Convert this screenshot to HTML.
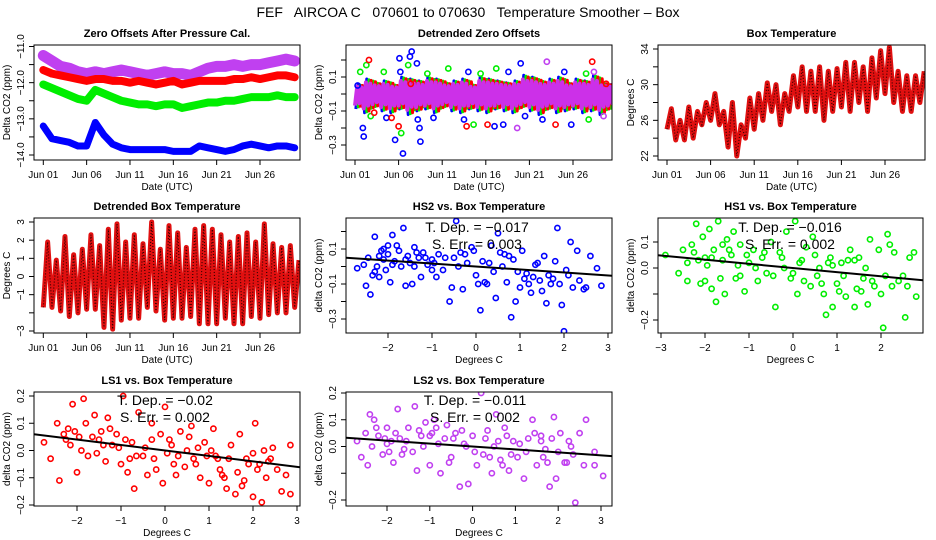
<!DOCTYPE html>
<html><head><meta charset="utf-8"><style>
html,body{margin:0;padding:0;background:#fff}
svg{display:block;font-family:"Liberation Sans",Arial,sans-serif}
</style></head><body>
<svg id="fig" width="936" height="540" viewBox="0 0 936 540" xmlns="http://www.w3.org/2000/svg">
<rect x="0" y="0" width="936" height="540" fill="#fff"/>
<text x="468" y="17" text-anchor="middle" font-size="14" style="white-space:pre" xml:space="preserve">FEF   AIRCOA C   070601 to 070630   Temperature Smoother – Box</text>
</svg>
<script>
// ---- Panel 1: zero offsets (daily values) ----
const zoMagenta=[-11.25,-11.4,-11.55,-11.6,-11.7,-11.75,-11.7,-11.75,-11.7,-11.65,-11.7,-11.75,-11.8,-11.75,-11.7,-11.75,-11.75,-11.8,-11.7,-11.6,-11.55,-11.55,-11.5,-11.55,-11.5,-11.5,-11.45,-11.4,-11.35,-11.4];
const zoRed=[-11.65,-11.75,-11.8,-11.85,-11.9,-11.95,-11.9,-11.9,-11.95,-11.95,-12.0,-11.95,-12.0,-12.05,-12.0,-11.95,-12.05,-12.0,-11.95,-11.95,-11.95,-11.95,-11.9,-11.9,-11.85,-11.9,-11.85,-11.8,-11.8,-11.85];
const zoGreen=[-12.05,-12.15,-12.25,-12.35,-12.45,-12.5,-12.2,-12.3,-12.4,-12.5,-12.55,-12.6,-12.6,-12.65,-12.6,-12.6,-12.7,-12.65,-12.6,-12.55,-12.55,-12.5,-12.5,-12.45,-12.4,-12.4,-12.4,-12.35,-12.4,-12.4];
const zoBlue=[-13.2,-13.55,-13.6,-13.65,-13.75,-13.75,-13.1,-13.45,-13.7,-13.8,-13.85,-13.85,-13.85,-13.85,-13.85,-13.9,-13.9,-13.9,-13.75,-13.8,-13.85,-13.9,-13.85,-13.75,-13.7,-13.75,-13.8,-13.75,-13.75,-13.8];
// ---- Panel 2: detrended zero offsets ----
const dzHi=[0.05,0.08,0.06,0.07,0.05,0.09,0.08,0.07,0.09,0.08,0.06,0.07,0.08,0.05,0.09,0.08,0.07,0.06,0.07,0.1,0.09,0.07,0.08,0.09,0.06,0.08,0.07,0.1,0.06,0.05];
const dzLo=[-0.08,-0.1,-0.07,-0.09,-0.1,-0.08,-0.11,-0.09,-0.08,-0.1,-0.07,-0.09,-0.1,-0.08,-0.09,-0.1,-0.08,-0.09,-0.1,-0.07,-0.09,-0.11,-0.08,-0.1,-0.09,-0.08,-0.1,-0.09,-0.11,-0.08];
const dzOutliers=[[0.3,0.05,'b'],[0.6,0.13,'g'],[0.9,-0.2,'b'],[1.0,-0.25,'b'],[1.3,0.17,'g'],[1.6,0.2,'r'],[1.8,-0.13,'g'],[2.2,-0.11,'r'],[3.3,0.13,'g'],[3.6,-0.14,'b'],[4.2,-0.14,'r'],[4.6,-0.27,'b'],[5.0,-0.19,'r'],[5.1,0.21,'b'],[5.2,0.13,'b'],[5.3,-0.23,'g'],[5.5,-0.35,'b'],[6.1,0.17,'g'],[6.3,0.22,'b'],[6.5,0.25,'b'],[6.4,0.06,'r'],[7.1,0.18,'b'],[7.2,-0.15,'b'],[7.4,-0.2,'b'],[7.5,-0.28,'b'],[8.3,0.12,'g'],[9.0,-0.14,'b'],[10.7,0.15,'g'],[12.5,-0.15,'b'],[12.8,-0.19,'r'],[13.0,0.13,'b'],[13.6,-0.18,'g'],[14.4,0.12,'g'],[15.2,-0.18,'r'],[16.0,-0.19,'b'],[16.2,0.15,'g'],[17.0,-0.18,'b'],[17.6,0.13,'b'],[18.6,-0.2,'m'],[19.0,0.18,'b'],[19.5,-0.13,'b'],[21.5,-0.15,'b'],[22.0,0.19,'m'],[23.0,-0.18,'r'],[24.0,0.13,'b'],[24.8,-0.18,'b'],[26.5,0.12,'g'],[26.8,-0.15,'g'],[27.2,0.19,'r'],[27.4,0.13,'m'],[28.5,-0.13,'m'],[28.8,0.06,'r']];
// ---- Panel 3: box temperature daily min/max ----
const btMin=[25,23.8,23.8,24,25.5,26,25.5,23,22,24,25,26,27,25.5,27,27.5,27,27,26,27,27.5,27,28,27,28.5,29,28,27,27,28];
const btMax=[27.3,26,27.5,27,28,29,27,28,25.5,28.5,29,30.2,30,29,31,32,31.5,32,31.5,31.8,32.5,32.5,32,33,33.8,34.2,31.5,31,31,31.5];
// ---- Panel 4: detrended box temperature daily min/max ----
const dbMin=[-1.7,-1.7,-1.9,-2.2,-2,-1.8,-1.8,-2.8,-2.9,-2.4,-2.3,-2.3,-1.7,-1.9,-2.4,-2.3,-2.3,-2.2,-2.6,-2.6,-2.6,-2.3,-2.6,-2.6,-2.2,-2.3,-2.1,-2,-2,-1.7];
const dbMax=[1.9,0.9,2.2,1.2,1.5,2.3,1.7,2.6,2.9,1.9,2.3,1.8,3.0,1.5,2.8,2.4,1.6,2.6,2.8,2.6,2.3,1.9,2.2,2.4,1.9,2.9,1.8,1.6,1.7,0.9];
// ---- Scatter panels ----
const hs2Pts=[[-2.7,-0.01],[-2.55,0.01],[-2.5,-0.11],[-2.45,0.05],[-2.4,-0.16],[-2.35,-0.05],[-2.3,0.17],[-2.25,0.0],[-2.2,-0.06],[-2.15,0.09],[-2.1,0.04],[-2.05,-0.02],[-2.0,0.07],[-1.95,-0.09],[-1.9,0.18],[-1.85,0.03],[-1.8,0.12],[-1.7,0.0],[-1.65,0.22],[-1.6,-0.11],[-1.55,0.06],[-1.5,0.02],[-1.45,-0.1],[-1.4,0.11],[-1.3,0.05],[-1.25,-0.06],[-1.2,0.08],[-1.1,0.01],[-1.0,0.04],[-0.9,-0.06],[-0.85,0.07],[-0.75,-0.02],[-0.6,-0.2],[-0.55,-0.12],[-0.5,0.05],[-0.45,0.26],[-0.35,0.08],[-0.3,-0.13],[-0.2,0.02],[-0.1,0.11],[0.0,-0.05],[0.1,-0.25],[0.15,0.03],[0.25,-0.1],[0.35,0.12],[0.45,-0.18],[0.5,0.19],[0.6,0.0],[0.7,-0.09],[0.8,-0.29],[0.85,0.04],[0.9,-0.2],[1.0,-0.12],[1.05,0.09],[1.15,-0.04],[1.25,-0.15],[1.35,0.01],[1.45,-0.08],[1.6,-0.21],[1.7,-0.1],[1.8,0.03],[1.85,0.22],[1.95,-0.22],[2.0,-0.37],[2.05,-0.02],[2.15,0.14],[2.2,-0.12],[2.3,0.09],[2.45,-0.13],[2.6,0.06],[2.75,-0.01],[2.85,-0.11],[-2.0,0.12],[-1.75,0.09],[0.3,0.02],[0.65,0.07],[1.3,-0.06],[1.55,0.06],[-2.2,0.06],[-2.1,0.1],[-1.9,0.01],[-1.6,0.04],[-1.4,0.0],[-1.35,0.08],[-1.15,0.05],[-0.95,0.02],[-0.7,0.05],[-0.4,0.0],[-0.25,0.07],[-0.05,0.09],[0.2,-0.09],[0.4,-0.03],[0.55,0.08],[0.75,0.06],[0.95,-0.03],[1.1,-0.07],[1.4,0.02],[1.65,-0.05],[1.75,-0.07],[1.9,-0.1],[2.1,-0.05],[2.35,-0.08],[2.5,-0.12],[-2.3,-0.03],[-1.0,-0.02],[0.05,-0.1],[1.2,-0.1],[1.5,-0.14]];
const hs1Pts=[[-2.9,0.05],[-2.6,-0.02],[-2.5,0.07],[-2.4,-0.05],[-2.3,0.09],[-2.2,0.17],[-2.15,0.03],[-2.1,-0.06],[-2.05,0.12],[-1.95,0.01],[-1.9,0.15],[-1.85,-0.08],[-1.8,0.07],[-1.75,-0.13],[-1.7,0.18],[-1.6,0.03],[-1.55,-0.1],[-1.5,0.11],[-1.4,0.05],[-1.35,0.14],[-1.3,-0.04],[-1.2,0.09],[-1.1,-0.09],[-1.0,0.02],[-0.9,0.07],[-0.8,-0.05],[-0.7,0.04],[-0.6,-0.02],[-0.5,0.1],[-0.4,-0.15],[-0.3,0.06],[-0.2,0.0],[-0.15,0.14],[-0.05,-0.04],[0.05,0.18],[0.1,-0.1],[0.2,0.03],[0.3,0.08],[0.4,-0.07],[0.45,0.12],[0.55,-0.03],[0.6,0.0],[0.7,-0.1],[0.75,-0.18],[0.85,0.04],[0.9,-0.15],[1.0,-0.06],[1.1,0.02],[1.2,-0.11],[1.3,0.07],[1.4,-0.15],[1.5,0.04],[1.6,-0.04],[1.7,-0.14],[1.75,0.11],[1.85,-0.07],[1.95,0.07],[2.0,-0.1],[2.05,-0.23],[2.15,0.13],[2.2,0.09],[2.3,0.06],[2.4,-0.05],[2.5,-0.03],[2.55,-0.19],[2.6,-0.07],[2.65,0.04],[2.75,0.06],[2.8,-0.11],[-2.0,0.04],[-1.6,0.09],[0.9,0.01],[1.4,0.03],[-2.25,0.06],[-2.0,-0.05],[-1.85,0.04],[-1.65,-0.04],[-1.45,0.07],[-1.25,0.01],[-1.05,0.05],[-0.85,0.0],[-0.65,0.06],[-0.45,-0.03],[-0.25,0.04],[0.0,-0.02],[0.25,-0.05],[0.5,0.05],[0.65,-0.06],[0.8,0.02],[1.05,-0.09],[1.25,0.03],[1.45,-0.08],[1.65,0.0],[1.8,-0.05],[2.1,-0.03],[2.25,-0.07],[-2.4,0.02],[-1.2,-0.03],[0.15,0.02],[1.15,-0.03],[1.55,-0.09]];
const ls1Pts=[[-2.75,0.03],[-2.6,-0.03],[-2.45,0.1],[-2.4,-0.11],[-2.3,0.06],[-2.2,0.08],[-2.15,0.02],[-2.1,0.17],[-2.0,-0.08],[-1.95,0.05],[-1.85,0.19],[-1.8,0.1],[-1.75,-0.02],[-1.6,0.13],[-1.5,0.04],[-1.45,0.07],[-1.35,-0.04],[-1.3,0.12],[-1.2,0.02],[-1.1,0.06],[-1.0,-0.05],[-0.95,0.2],[-0.85,-0.08],[-0.75,0.03],[-0.7,-0.14],[-0.6,0.14],[-0.5,-0.02],[-0.4,-0.09],[-0.3,0.04],[-0.2,-0.07],[-0.1,0.06],[-0.05,-0.12],[0.0,0.16],[0.05,-0.01],[0.15,0.02],[0.25,-0.09],[0.35,0.07],[0.45,-0.06],[0.55,0.05],[0.65,-0.03],[0.75,0.01],[0.8,-0.1],[0.9,0.03],[1.0,-0.12],[1.1,0.08],[1.2,-0.03],[1.3,-0.09],[1.4,-0.14],[1.5,0.02],[1.6,-0.16],[1.7,0.06],[1.8,-0.11],[1.9,-0.05],[2.0,-0.17],[2.05,0.1],[2.1,-0.07],[2.2,-0.19],[2.25,0.0],[2.35,-0.04],[2.45,0.01],[2.55,-0.07],[2.65,-0.15],[2.75,-0.09],[2.85,-0.16],[2.85,0.02],[-1.4,0.02],[-0.3,0.1],[0.6,0.09],[1.15,-0.02],[1.75,-0.13],[-2.25,0.04],[-2.05,0.07],[-1.9,0.0],[-1.65,0.05],[-1.55,-0.01],[-1.25,0.08],[-1.05,0.01],[-0.9,0.04],[-0.65,-0.02],[-0.45,0.01],[-0.25,-0.03],[0.1,0.04],[0.3,-0.02],[0.5,0.0],[0.7,-0.05],[0.95,-0.02],[1.05,0.0],[1.25,-0.07],[1.45,-0.03],[1.65,-0.08],[1.85,-0.03],[2.0,-0.01],[2.15,-0.05],[2.3,-0.1],[2.4,-0.03],[-0.8,-0.03],[0.2,-0.05],[1.35,-0.1]];
const ls2Pts=[[-2.7,0.02],[-2.6,-0.04],[-2.5,0.05],[-2.45,-0.07],[-2.4,0.12],[-2.35,0.0],[-2.3,0.1],[-2.2,0.04],[-2.1,-0.03],[-2.0,0.07],[-1.9,0.02],[-1.85,-0.06],[-1.75,0.14],[-1.7,0.03],[-1.6,-0.01],[-1.5,0.07],[-1.4,-0.02],[-1.35,0.15],[-1.3,-0.09],[-1.2,0.04],[-1.1,0.09],[-1.0,-0.07],[-0.9,0.1],[-0.8,0.01],[-0.75,-0.1],[-0.6,0.08],[-0.5,-0.04],[-0.45,0.03],[-0.3,-0.15],[-0.25,0.06],[-0.15,0.0],[-0.1,-0.14],[0.0,0.04],[0.1,-0.07],[0.2,0.2],[0.25,-0.03],[0.35,0.06],[0.45,-0.1],[0.55,0.12],[0.65,-0.05],[0.75,0.07],[0.85,-0.09],[0.95,0.02],[1.05,-0.04],[1.2,-0.12],[1.3,0.03],[1.4,0.1],[1.5,-0.07],[1.6,0.04],[1.7,-0.01],[1.8,-0.15],[1.9,0.11],[1.95,-0.12],[2.05,0.05],[2.15,-0.06],[2.25,0.02],[2.35,-0.03],[2.4,-0.21],[2.5,0.05],[2.6,-0.07],[2.65,0.1],[2.85,-0.02],[2.85,-0.07],[3.05,-0.11],[-2.0,0.01],[-1.0,0.04],[0.5,0.0],[1.6,0.02],[-2.25,0.07],[-2.05,0.03],[-1.95,-0.02],[-1.8,0.05],[-1.55,0.02],[-1.25,0.06],[-1.15,0.0],[-0.95,0.05],[-0.85,0.07],[-0.65,0.03],[-0.4,0.05],[-0.2,0.01],[0.05,-0.02],[0.3,0.03],[0.4,-0.04],[0.6,0.02],[0.8,0.04],[0.9,-0.03],[1.1,0.01],[1.25,-0.02],[1.45,0.05],[1.65,-0.04],[1.85,0.03],[2.0,-0.02],[2.2,-0.06],[2.3,0.0],[-1.65,-0.03],[-0.55,-0.06],[0.7,-0.07],[1.75,-0.06]];
const slopes=[-0.017,-0.016,-0.02,-0.011];
const tdepLabels=["-0.017","-0.016","-0.02","-0.011"];
const serrLabels=["0.003","0.002","0.002","0.002"];
const dateTicks=["Jun 01","Jun 06","Jun 11","Jun 16","Jun 21","Jun 26"];

const NS="http://www.w3.org/2000/svg";
const svg=document.getElementById('fig');
const COL={b:'#0000ff',g:'#00ee00',r:'#ff0000',m:'#c040f0'};
function el(tag,attrs,parent){const e=document.createElementNS(NS,tag);for(const k in attrs)e.setAttribute(k,attrs[k]);(parent||svg).appendChild(e);return e;}
function lin(v1,p1,v2,p2){const k=(p2-p1)/(v2-v1);return v=>p1+(v-v1)*k;}

function panel(cfg){
  const g=el('g',{});
  
  
  const b=cfg.box;
  const cp='clip-'+cfg.name;
  const cl=el('clipPath',{id:cp},g);el('rect',{x:b[0],y:b[2],width:b[1]-b[0],height:b[3]-b[2]},cl);
  const plot=el('g',{'clip-path':'url(#'+cp+')'},g);
  
  
  cfg.draw(plot,cfg.xs,cfg.ys);
  const frame=el('rect',{x:b[0],y:b[2],width:b[1]-b[0],height:b[3]-b[2],fill:'none',stroke:'#000','stroke-width':1},g);
  
  
  const t=el('text',{x:(b[0]+b[1])/2,y:b[2]-8,'text-anchor':'middle','font-size':11,'font-weight':'bold'},g);
  t.textContent=cfg.title;
  
  
  const xa=el('g',{},g);
  
  
  cfg.xticks.forEach((v,i)=>{const x=cfg.xs(v);
    el('line',{x1:x,x2:x,y1:b[3],y2:b[3]+5,stroke:'#000'},xa);
    const tl=el('text',{x:x,y:b[3]+18,'text-anchor':'middle','font-size':10},xa);
    tl.textContent=cfg.xlabels[i];
    
    });
  const xt=el('text',{x:(b[0]+b[1])/2,y:b[3]+30,'text-anchor':'middle','font-size':10},g);
  xt.textContent=cfg.xtitle;
  
  
  const ya=el('g',{},g);
  
  
  cfg.yticks.forEach(v=>{const y=cfg.ys(v);
    el('line',{x1:b[0]-5,x2:b[0],y1:y,y2:y,stroke:'#000'},ya);});
  cfg.ylabels.forEach(v=>{const y=cfg.ys(v);const lx=b[0]-10;
    const tl=el('text',{x:lx,y:y,'text-anchor':'middle','font-size':10,transform:`rotate(-90 ${lx} ${y})`},ya);
    tl.textContent=cfg.yfmt(v).replace('-','\u2212');
    
    });
  const yx=b[0]-24,yy=(b[2]+b[3])/2;
  const yt=el('text',{x:yx,y:yy,'text-anchor':'middle','font-size':10,transform:`rotate(-90 ${yx} ${yy})`},g);
  yt.textContent=cfg.ytitle;
  
  
  return g;
}
function band(p,arr,xs,ys,color,w,name){
  const pl=el('polyline',{points:arr.map((v,i)=>xs(i)+','+ys(v)).join(' '),fill:'none',stroke:color,'stroke-width':w,'stroke-linejoin':'round','stroke-linecap':'round'},p);
  
  
}
function zig(p,lo,hi,xs,ys,color,w,name){
  const pts=[];lo.forEach((v,i)=>{pts.push(xs(i)+','+ys(v));pts.push(xs(i+0.5)+','+ys(hi[i]));});
  const pl=el('polyline',{points:pts.join(' '),fill:'none',stroke:color,'stroke-width':w,'stroke-linejoin':'round'},p);
  
  
  const tx=el('polyline',{points:pts.join(' '),fill:'none',stroke:'#300','stroke-width':1.2,'stroke-dasharray':'1 2'},p);
  
  
}
function pt(p,x,y,color,name){
  const c=el('circle',{cx:x,cy:y,r:2.6,fill:'none',stroke:color,'stroke-width':1.6},p);
  
  
}
const dayTicks=[0,5,10,15,20,25];
const f1=v=>v.toFixed(1), f0=v=>String(v);
const range=(a,b,s)=>{const r=[];for(let v=a;v<=b+1e-9;v+=s)r.push(+v.toFixed(3));return r;};

panel({name:'zero-offsets-panel',title:'Zero Offsets After Pressure Cal.',box:[34,300,45,160],
  xs:lin(0,43.3,25,260),ys:lin(-11,46.5,-14,155),xticks:dayTicks,xlabels:dateTicks,xtitle:'Date (UTC)',
  yticks:range(-14,-11,0.5),ylabels:[-11,-12,-13,-14],yfmt:f1,ytitle:'Delta CO2 (ppm)',
  draw:(p,xs,ys)=>{band(p,zoMagenta,xs,ys,COL.m,11,'ls2-series');band(p,zoRed,xs,ys,COL.r,8,'ls1-series');
    band(p,zoGreen,xs,ys,COL.g,8,'hs1-series');band(p,zoBlue,xs,ys,COL.b,7,'hs2-series');}});

panel({name:'detrended-zero-offsets-panel',title:'Detrended Zero Offsets',box:[346,612,45,160],
  xs:lin(0,355,25,573),ys:lin(0.1,77,-0.1,111),xticks:dayTicks,xlabels:dateTicks,xtitle:'Date (UTC)',
  yticks:range(-0.3,0.2,0.1),ylabels:[0.1,-0.1,-0.3],yfmt:f1,ytitle:'Delta CO2 (ppm)',
  draw:(p,xs,ys)=>{
    const layers=[['b',0.1,1.1,3],['g',0.35,1.05,3],['r',0.6,1.0,3],['m',0.0,0.85,4]];
    layers.forEach(L=>{
      const pts=[];dzLo.forEach((v,i)=>{pts.push(xs(i+L[1])+','+ys(v*L[2]));pts.push(xs(i+L[1]+0.25)+','+ys(dzHi[i]*L[2]));pts.push(xs(i+L[1]+0.5)+','+ys(v*0.8*L[2]));pts.push(xs(i+L[1]+0.75)+','+ys(dzHi[i]*0.9*L[2]));});
      const pl=el('polyline',{points:pts.join(' '),fill:'none',stroke:L[0]==='m'?'#cc30e8':COL[L[0]],'stroke-width':L[3],'stroke-linejoin':'round'},p);
      
      });
    dzOutliers.forEach(o=>pt(p,xs(o[0]),ys(o[1]),COL[o[2]],'outlier-point'));}});

panel({name:'box-temperature-panel',title:'Box Temperature',box:[658,925,45,160],
  xs:lin(0,667,25,885),ys:lin(34,49,22,156),xticks:dayTicks,xlabels:dateTicks,xtitle:'Date (UTC)',
  yticks:range(22,34,2),ylabels:[22,26,30,34],yfmt:f0,ytitle:'Degrees C',
  draw:(p,xs,ys)=>zig(p,btMin,btMax,xs,ys,'#e01010',5,'box-temperature-series')});

panel({name:'detrended-box-temperature-panel',title:'Detrended Box Temperature',box:[34,300,218,333],
  xs:lin(0,43.3,25,260),ys:lin(3,222,-3,331),xticks:dayTicks,xlabels:dateTicks,xtitle:'Date (UTC)',
  yticks:range(-3,3,1),ylabels:[3,2,1,0,-1,-3],yfmt:f0,ytitle:'Degrees C',
  draw:(p,xs,ys)=>zig(p,dbMin,dbMax,xs,ys,'#e01010',5,'detrended-temperature-series')});

function scatterPanel(name,title,box,xs,ys,xticks,yticks,ylabels,pts,color,k,tx,ty){
  panel({name,title,box,xs,ys,xticks,xlabels:xticks.map(v=>String(v).replace('-','\u2212')),xtitle:'Degrees C',
    yticks,ylabels,yfmt:f1,ytitle:'delta CO2 (ppm)',
    draw:(p,xs,ys)=>{pts.forEach(d=>pt(p,xs(d[0]),ys(d[1]),color,'scatter-point'));
      const x0=-3.5,x1=3.5;
      const ln=el('line',{x1:xs(x0),y1:ys(slopes[k]*x0),x2:xs(x1),y2:ys(slopes[k]*x1),stroke:'#000','stroke-width':2},p);
      
      }});
  const t1=el('text',{x:tx,y:ty,'text-anchor':'middle','font-size':14});
  t1.textContent='T. Dep. =  '+tdepLabels[k].replace('-','\u2212');
  
  
  const t2=el('text',{x:tx,y:ty+17,'text-anchor':'middle','font-size':14});
  t2.textContent='S. Err. =  '+serrLabels[k];
  
  
}
scatterPanel('hs2-panel','HS2 vs. Box Temperature',[346,612,218,333],lin(-2,388,3,608),lin(0.1,249,-0.1,284),
  [-2,-1,0,1,2,3],range(-0.3,0.2,0.1),[0.1,-0.1,-0.3],hs2Pts,COL.b,0,477,232);
scatterPanel('hs1-panel','HS1 vs. Box Temperature',[658,923,218,333],lin(-3,661,2,881),lin(0.1,242,0,268),
  [-3,-2,-1,0,1,2],range(-0.2,0.1,0.1),[0.1,0,-0.2],hs1Pts,COL.g,1,790,232);
scatterPanel('ls1-panel','LS1 vs. Box Temperature',[34,300,392,506],lin(-2,77,3,297),lin(0.2,396,-0.2,505),
  [-2,-1,0,1,2,3],range(-0.2,0.2,0.1),[0.2,0.1,0,-0.1,-0.2],ls1Pts,COL.r,2,165,405);
scatterPanel('ls2-panel','LS2 vs. Box Temperature',[346,612,392,506],lin(-2,387,3,601),lin(0.2,393,-0.2,500),
  [-2,-1,0,1,2,3],range(-0.2,0.2,0.1),[0.2,0.1,0,-0.2],ls2Pts,COL.m,3,475,405);
</script>
</body></html>
